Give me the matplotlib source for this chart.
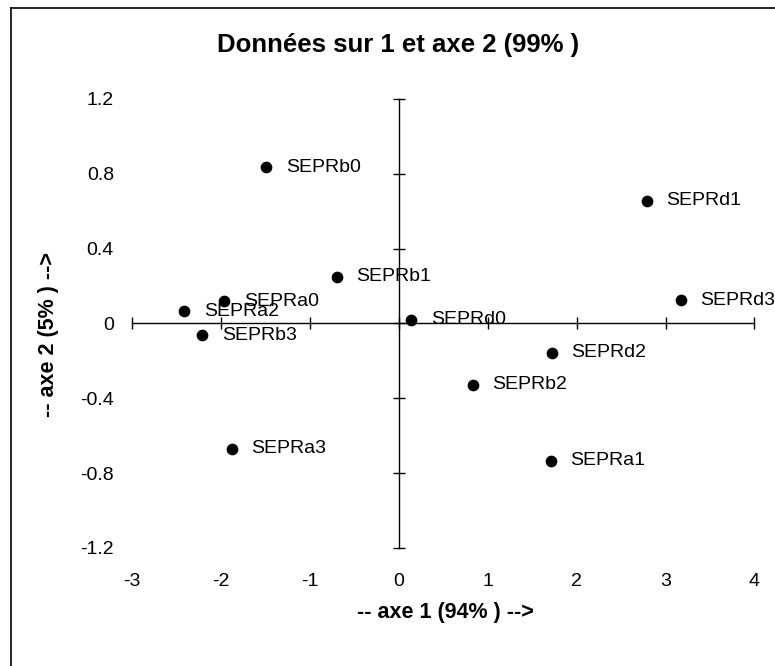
import matplotlib
matplotlib.use("Agg")
import matplotlib.pyplot as plt
from matplotlib.lines import Line2D

labels = ["SEPRb0", "SEPRb1", "SEPRa0", "SEPRa2", "SEPRb3", "SEPRd0",
          "SEPRa3", "SEPRd1", "SEPRd3", "SEPRd2", "SEPRb2", "SEPRa1"]
axe1 = [-1.49, -0.70, -1.96, -2.41, -2.21, 0.14,
        -1.88, 2.79, 3.17, 1.72, 0.83, 1.71]
axe2 = [0.836, 0.25, 0.12, 0.066, -0.064, 0.02,
        -0.67, 0.655, 0.123, -0.157, -0.327, -0.734]

xticks = [-3, -2, -1, 0, 1, 2, 3, 4]
yticks = [-1.2, -0.8, -0.4, 0, 0.4, 0.8, 1.2]
ytick_labels = ["-1.2", "-0.8", "-0.4", "0", "0.4", "0.8", "1.2"]

title = "Données sur 1 et axe 2 (99% )"
xlabel = "-- axe 1 (94% ) -->"
ylabel = "-- axe 2 (5% ) -->"

plt.rcParams['font.family'] = ['Liberation Sans', 'DejaVu Sans']

fig = plt.figure(figsize=(7.75, 6.66), dpi=100)
ax = fig.add_axes([0.1703, 0.1772, 0.8032, 0.6742])
ax.set_xlim(-3, 4)
ax.set_ylim(-1.2, 1.2)

ax.scatter(axe1, axe2, s=55, color='black', zorder=3)
for lab, x, y in zip(labels, axe1, axe2):
    ax.annotate(lab, (x, y), xytext=(14, 0), textcoords='offset points',
                va='center', ha='left', fontsize=14, color='black')

for side in ['top', 'right']:
    ax.spines[side].set_visible(False)
ax.spines['left'].set_position(('data', 0))
ax.spines['bottom'].set_position(('data', 0))
ax.spines['left'].set_linewidth(1.0)
ax.spines['bottom'].set_linewidth(1.0)
ax.set_xticks(xticks)
ax.set_yticks(yticks)
ax.tick_params(axis='both', direction='inout', length=8, width=1.0,
               labelbottom=False, labelleft=False)

# tick labels placed at the low/left edge of plot area (Excel style)
secx = ax.secondary_xaxis('bottom')
secx.set_xticks(xticks)
secx.set_xticklabels([str(t) for t in xticks])
secx.tick_params(length=0, pad=18, labelsize=14)
for s in secx.spines.values():
    s.set_visible(False)

secy = ax.secondary_yaxis('left')
secy.set_yticks(yticks)
secy.set_yticklabels(ytick_labels)
secy.tick_params(length=0, pad=13, labelsize=14)
for s in secy.spines.values():
    s.set_visible(False)

fig.text(0.514, 0.932, title, ha='center', va='center', fontsize=18.5,
         fontweight='bold')
fig.text(0.575, 0.080, xlabel, ha='center', va='center', fontsize=15.5,
         fontweight='bold')
fig.text(0.062, 0.497, ylabel, ha='center', va='center', fontsize=15.5,
         fontweight='bold', rotation=90)

# outer frame (left and top edges)
fig.add_artist(Line2D([0.0142, 0.0142], [0.0, 0.988], transform=fig.transFigure,
                      color='black', lw=1.2))
fig.add_artist(Line2D([0.0142, 1.0], [0.988, 0.988], transform=fig.transFigure,
                      color='black', lw=1.2))

fig.savefig("out.png", dpi=100)
